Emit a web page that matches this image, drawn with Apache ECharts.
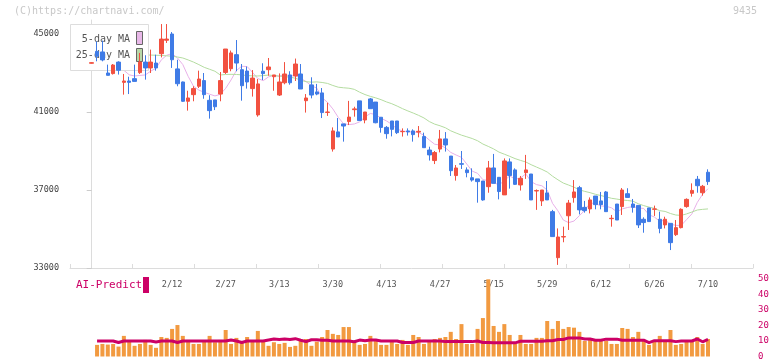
<!DOCTYPE html>
<html>
<head>
<meta charset="utf-8">
<script src="https://cdn.jsdelivr.net/npm/echarts@6/dist/echarts.min.js"></script>
<style>
html, body { margin: 0; padding: 0; background: #fff; }
#chart { width: 772px; height: 361px; }
</style>
</head>
<body>
<div id="chart"></div>
<script>
// daily candles, index 0 .. 115 (red = up, blue = down)
const opens = [43500,44110,44080,43000,42970,43560,42520,42590,42710,43020,
  43560,43260,43510,43990,44680,45000,43210,42540,41550,41890,
  42320,42610,41600,41620,41920,43030,43220,43940,43170,43100,
  42200,40850,43090,43170,42810,41870,42500,42900,42850,42950,
  41580,42390,42030,41980,40980,39100,39980,40390,40510,41120,
  41570,40590,41670,41510,40730,40210,40540,40540,39990,40030,
  40030,39970,39740,39050,38510,39100,39620,38740,37740,38350,
  38030,37630,37570,37460,37170,38130,37650,36750,38440,38030,
  37260,37890,37820,36950,36440,36850,35890,33530,34590,35680,
  36610,37120,36110,36030,36690,36440,36900,35530,36280,36150,
  36810,36280,36210,35500,36080,36010,35500,35210,35290,34710,
  35070,36150,36830,37550,36860,37910];
const closes = [43530,43860,43670,42880,43410,43140,42590,42520,42570,43560,
  43260,43560,43260,44740,44740,43680,42450,41550,41720,42200,
  42690,41890,41070,41270,42610,44230,44030,43510,42350,42540,
  42740,42440,42970,43310,42900,42540,42950,42500,43460,42180,
  41720,41870,41920,40970,41000,40030,39720,40280,40740,41160,
  40560,41000,41170,40450,40210,39890,40110,39940,40000,39980,
  39840,40010,39170,38800,38920,39620,39310,37990,38130,38320,
  37890,37510,37430,36490,38130,37340,36920,38490,37740,37290,
  37600,38030,36490,36970,37000,36490,34610,34590,34610,36330,
  36900,35980,35940,36490,36250,36250,35890,35550,35460,37000,
  36620,36110,35210,35330,35380,36030,35030,35500,34300,35070,
  36010,36520,36980,37220,37190,37430];
const lows = [43480,43600,43600,42880,42920,42920,41890,41920,42570,42950,
  42660,43000,43120,43800,44540,43260,42320,41520,41070,41550,
  42230,41680,40660,41100,41550,42950,43090,43090,41580,42200,
  41790,40760,42640,42860,42090,41820,42420,42400,42590,42180,
  40970,41700,41860,40690,40800,38970,39720,39480,40330,40760,
  40560,40420,41170,40420,39940,39630,39750,39870,39740,39790,
  39480,39700,39170,38510,38330,38930,38970,37720,37480,38080,
  37650,37430,36350,36450,36860,37340,36520,36750,37070,37260,
  36970,37570,36490,35980,36180,36490,34610,33160,34320,34950,
  36350,35750,35840,35800,36010,36010,35890,35120,35460,35720,
  36620,35840,35050,34810,35380,35670,34780,35030,33920,34640,
  35030,36090,36660,36860,36710,37260];
const highs = [43560,44620,44660,43430,43460,43600,42950,42810,43430,44030,
  43910,44200,43940,45510,45510,45100,43680,42560,42090,42320,
  43120,43000,41860,41620,43050,44230,44150,44690,43460,43330,
  43150,42690,43500,43770,42900,42980,43560,43090,43740,43460,
  41920,42780,42440,42230,41480,40210,40690,40390,41570,41270,
  41570,41000,41720,41510,40730,40280,40540,40540,40160,40160,
  40110,40280,39940,39220,39000,40080,39970,38740,38280,39000,
  38160,38110,37570,37460,38490,38850,37650,38620,38620,38110,
  37720,38800,37820,37030,37000,37460,35980,35030,35120,36490,
  37510,37210,36440,36620,36690,36900,36950,35720,36280,37100,
  37090,36540,36210,35600,36080,36200,35890,35630,35290,35460,
  36060,36570,37340,37720,37260,38060];

// volume (right axis, 0-50) and the AI-Predict line
const volumes = [null,7.5,8.1,7.7,8.1,6.4,13.3,9.5,6.9,8.1,10.7,
  7.5,5.6,12.6,12.0,17.8,20.3,13.3,10.7,8.1,8.1,
  10,13.3,9.2,10.7,17.1,8.1,12.0,10,12.6,10,
  16.5,10,6.9,9.2,8.1,8.8,6.2,6.9,10.7,11.3,
  6.9,9.6,12.6,17.1,14.6,13.9,19.0,19.0,9.2,7.5,
  8.1,13.3,10.7,7.5,7.5,10,8.1,10.7,7.5,13.9,
  12.6,8.1,10,11.3,12.0,12.6,15.9,11.3,20.9,8.1,
  8.1,17.8,24.8,49.8,19.7,15.9,20.9,13.9,8.1,13.9,
  8.1,8.1,12.0,12.0,22.9,17.8,22.9,17.8,19.0,18.6,
  15.9,10,11.3,11.3,10,10,8.1,8.1,18.4,17.8,
  12.6,15.9,10.7,7.5,10,13.3,10,17.1,7.5,8.1,
  10,10,12.6,8.1,11.3];
const aiPredict = [null,10,10,10,10,9.0,10,10,10,10,10,
  10,9.4,10,10,10,9.0,10,10,10,10,
  10,10,10,10,10,10.6,10,9.0,10,10,
  10,10,10.7,11.3,11.0,11.3,11.0,11.5,10.5,9.6,
  10.8,10.8,10.5,10.5,10,10,10,10,9.5,10.6,
  10.2,10.7,10.7,10,10,10,10,9.0,9.0,9.0,
  10,10,10,10,10,9.6,9.6,9.6,9.6,9.6,
  9.6,10,9.0,9.0,8.8,8.8,8.8,8.8,8.8,9.8,
  9.8,9.8,9.8,9.8,10.2,10.2,11,11,12,12,
  12,11.3,11.3,10.5,10.5,11.2,11.2,11.2,10.5,10.5,
  10.5,10.5,10.5,9.0,10.2,10.2,10.2,10.2,9.6,10,
  10,10,11.3,9.5,11];

// 25-day MA read off the picture where earlier closes are not shown
const ma25Head = [null,null,null,null,null,null,null,null,null,43920,
  43920,43920,43910,43900,43880,43860,43820,43770,43670,43560,
  43430,43290,43190,43090];

const tickLabels = ['2/12','2/27','3/13','3/30','4/13','4/27','5/15','5/29','6/12','6/26','7/10'];
const tickIndex = [15,25,35,45,55,65,75,85,95,105,115];
const priceTicks = [33000,37000,41000,45000];

const FONT = 'DejaVu Sans Mono';
const UP = '#f25140', DOWN = '#3f7be6';

function movingAvg(n, head) {
  return closes.map(function (c, i) {
    if (i < n - 1) return head ? head[i] : null;
    let s = 0;
    for (let k = i - n + 1; k <= i; k++) s += closes[k];
    return Math.round(s / n);
  });
}
const ma5 = movingAvg(5);
const ma25 = movingAvg(25, ma25Head);

const candleData = closes.map((c, i) => [i, opens[i], c, lows[i], highs[i]]);
const xMin = -4.05, xMax = 123.4;
const xTicks = [];
for (let j = 0; j <= 11; j++) xTicks.push(xMin + (xMax - xMin) * j / 11);

let myChart = echarts.init(document.getElementById('chart'));
let option = {
  animation: false,
  grid: [
    { left: 70, right: 19, top: 20, height: 248 },
    { left: 70, right: 19, top: 279, height: 78 }
  ],
  xAxis: [
    {
      type: 'value', gridIndex: 0, min: xMin, max: xMax,
      axisLine: { lineStyle: { color: '#dcdcdc', width: 1 } },
      axisTick: { customValues: xTicks, inside: true, length: 4, lineStyle: { color: '#dcdcdc' } },
      axisLabel: {
        customValues: tickIndex, margin: 12,
        formatter: v => tickLabels[tickIndex.indexOf(Math.round(v))] || '',
        color: '#555', fontSize: 8.5, fontFamily: FONT
      },
      splitLine: { show: false }
    },
    { type: 'value', gridIndex: 1, min: xMin, max: xMax, show: false }
  ],
  yAxis: [
    {
      type: 'value', gridIndex: 0, min: 33000, max: 45718,
      axisLine: { show: true, lineStyle: { color: '#dcdcdc' } },
      axisTick: { show: true, customValues: priceTicks, length: 5, lineStyle: { color: '#cccccc' } },
      axisLabel: { customValues: priceTicks, margin: 11, formatter: v => String(v), color: '#444', fontSize: 8.5, fontFamily: FONT },
      splitLine: { show: false }
    },
    {
      type: 'value', gridIndex: 1, min: 0, max: 50, interval: 10, position: 'right',
      axisLine: { show: false }, axisTick: { show: false },
      axisLabel: { margin: 5, color: '#cc0066', fontSize: 9, fontFamily: FONT },
      splitLine: { show: false }
    }
  ],
  graphic: [
    { type: 'text', left: 14, top: 6, z: 3, style: { text: '(C)https://chartnavi.com/', fill: '#c8c8c8', font: '10px ' + FONT } },
    { type: 'text', right: 15, top: 6, z: 3, style: { text: '9435', fill: '#c8c8c8', font: '10px ' + FONT } },
    { type: 'rect', z: 3, shape: { x: 70.5, y: 24.5, width: 78, height: 46 }, style: { fill: '#fff', stroke: '#dddddd', lineWidth: 1 } },
    { type: 'text', z: 3, x: 130, y: 39, style: { text: '5-day MA', fill: '#555', font: '10px ' + FONT, align: 'right', verticalAlign: 'middle' } },
    { type: 'rect', z: 3, shape: { x: 136.5, y: 31.5, width: 6, height: 13 }, style: { fill: '#e8b8e8', stroke: '#666', lineWidth: 1 } },
    { type: 'text', z: 3, x: 130, y: 55, style: { text: '25-day MA', fill: '#555', font: '10px ' + FONT, align: 'right', verticalAlign: 'middle' } },
    { type: 'rect', z: 3, shape: { x: 136.5, y: 48.5, width: 6, height: 13 }, style: { fill: '#b8d8a8', stroke: '#666', lineWidth: 1 } },
    { type: 'text', z: 3, x: 76, y: 285, style: { text: 'AI-Predict', fill: '#cc0066', font: '11px ' + FONT, verticalAlign: 'middle' } },
    { type: 'rect', z: 3, shape: { x: 143, y: 277, width: 6, height: 16 }, style: { fill: '#cc0066' } }
  ],
  series: [
    {
      name: '5-day MA', type: 'line', xAxisIndex: 0, yAxisIndex: 0, z: 1,
      data: ma5.map((v, i) => [i, v]), showSymbol: false,
      lineStyle: { color: '#e8b0e8', width: 1 }
    },
    {
      name: '25-day MA', type: 'line', xAxisIndex: 0, yAxisIndex: 0, z: 1,
      data: ma25.map((v, i) => [i, v]), showSymbol: false,
      lineStyle: { color: '#b4dca0', width: 1 }
    },
    {
      type: 'candlestick', xAxisIndex: 0, yAxisIndex: 0, z: 5,
      data: candleData, barWidth: 4,
      itemStyle: { color: UP, color0: DOWN, borderColor: UP, borderColor0: DOWN, borderWidth: 1 }
    },
    {
      type: 'bar', xAxisIndex: 1, yAxisIndex: 1, z: 2,
      data: volumes.map((v, i) => [i, v]), barWidth: 4,
      itemStyle: { color: '#f29a40' }
    },
    {
      type: 'line', xAxisIndex: 1, yAxisIndex: 1, z: 4,
      data: aiPredict.map((v, i) => [i, v]), showSymbol: false,
      lineStyle: { color: '#cc0066', width: 3 }
    }
  ]
};
option && myChart.setOption(option);
</script>
</body>
</html>
